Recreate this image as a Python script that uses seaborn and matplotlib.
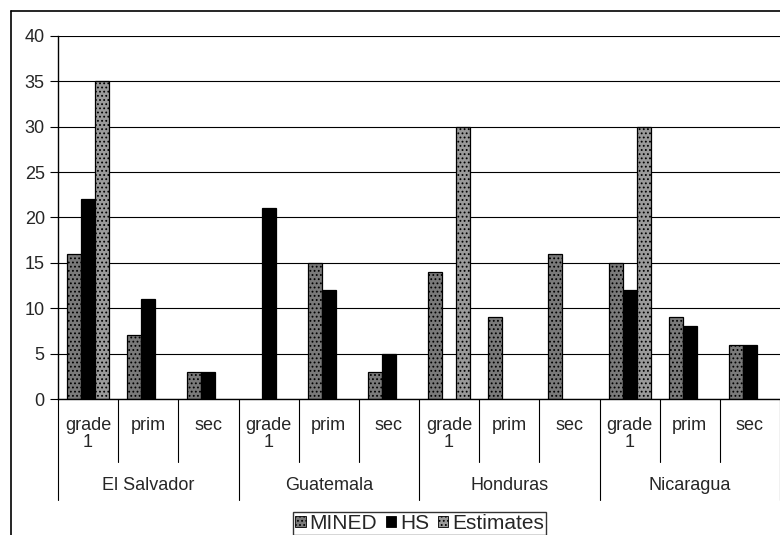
import numpy as np
import pandas as pd
import matplotlib
matplotlib.use("Agg")
import matplotlib.pyplot as plt
from matplotlib.patches import Rectangle
from matplotlib.lines import Line2D
import seaborn as sns

# data
countries = ["El Salvador", "Guatemala", "Honduras", "Nicaragua"]
levels = ["grade\n1", "prim", "sec"]
series = ["MINED", "HS", "Estimates"]

mined = [16, 7, 3, np.nan, 15, 3, 14, 9, 16, 15, 9, 6]
hs = [22, 11, 3, 21, 12, 5, np.nan, np.nan, np.nan, 12, 8, 6]
estimates = [35, np.nan, np.nan, np.nan, np.nan, np.nan, 30, np.nan, np.nan, 30, np.nan, np.nan]

cats = [f"{c}|{l}" for c in countries for l in levels]
df = pd.DataFrame({"cat": cats * 3,
                   "series": np.repeat(series, len(cats)),
                   "value": mined + hs + estimates})

sns.set_style("white")
plt.rcParams["font.family"] = ["Liberation Sans", "DejaVu Sans"]
plt.rcParams["hatch.color"] = "#333333"
plt.rcParams["hatch.linewidth"] = 0.8

fig = plt.figure(figsize=(7.8, 5.35), dpi=100)
ax = fig.add_axes([58 / 780, 1 - 399 / 535, 1 - 58 / 780, (399 - 36) / 535])

colors = {"MINED": "#7a7a7a", "HS": "#000000", "Estimates": "#9a9a9a"}
hatches = {"MINED": "....", "HS": "", "Estimates": "...."}
sns.barplot(data=df, x="cat", y="value", hue="series", order=cats,
            hue_order=series, palette=colors, width=0.7, ax=ax,
            edgecolor="black", linewidth=0.9, legend=False)

for cont, name in zip(ax.containers, series):
    for bar in cont:
        bar.set_hatch(hatches[name])

ax.set_ylim(0, 40)
ax.set_xlim(-0.5, len(cats) - 0.5)
ax.set_yticks(range(0, 41, 5))
ax.yaxis.grid(True, color="black", linewidth=0.8)
ax.set_axisbelow(True)
ax.tick_params(axis="y", labelsize=13, length=5.5, direction="out", left=True,
               color="black", pad=4)
ax.set_xticks([])
ax.set_xlabel("")
ax.set_ylabel("")
for s in ["top", "right"]:
    ax.spines[s].set_visible(False)
for s in ["left", "bottom"]:
    ax.spines[s].set_color("black")
    ax.spines[s].set_linewidth(1.0)

# hierarchical category axis
trans = ax.get_xaxis_transform()
h_ax = (399 - 36) / 535  # axes height in figure fraction
def fy(px):
    return -(px - 399) / 535 / h_ax

for i, cat in enumerate(cats):
    lvl = cat.split("|")[1]
    ax.text(i, fy(417), lvl, transform=trans, ha="center", va="top",
            fontsize=13, linespacing=1.0)
for i in range(len(cats) + 1):
    bottom = fy(500) if i % 3 == 0 else fy(462)
    ax.plot([i - 0.5, i - 0.5], [0, bottom], transform=trans, color="black",
            lw=0.8, clip_on=False)
for k, c in enumerate(countries):
    ax.text(3 * k + 1, fy(486), c, transform=trans, ha="center", va="center",
            fontsize=13)

# legend
handles = [Rectangle((0, 0), 1, 1, facecolor=colors[s], edgecolor="black",
                     hatch=hatches[s], lw=0.6) for s in series]
fig.legend(handles, series, loc="lower center", bbox_to_anchor=(0.538, 0.0),
           ncol=3, frameon=True, fancybox=False, edgecolor="black",
           fontsize=15, handlelength=0.5, handleheight=0.5, handletextpad=0.2,
           columnspacing=0.4, borderpad=0.1, borderaxespad=0)

# outer chart frame (top and left edges)
fig.add_artist(Line2D([11 / 780, 1.0], [1 - 11 / 535] * 2, transform=fig.transFigure,
                      color="black", lw=1.2))
fig.add_artist(Line2D([11 / 780] * 2, [0, 1 - 11 / 535], transform=fig.transFigure,
                      color="black", lw=1.2))

fig.savefig("out.png", dpi=100)
